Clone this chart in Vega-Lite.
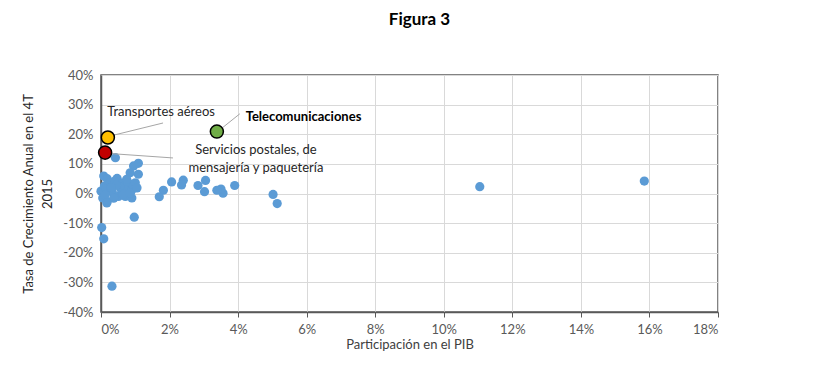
{
  "$schema": "https://vega.github.io/schema/vega-lite/v6.json",
  "width": 617,
  "height": 237,
  "autosize": "none",
  "padding": {"left": 101, "top": 75, "right": 99, "bottom": 60},
  "title": {"text": "Figura 3", "font": "Lato", "fontSize": 17, "fontWeight": "bold", "color": "#000000", "anchor": "middle", "offset": 40, "dx": 10},
  "config": {"view": {"stroke": "#595959", "strokeWidth": 1.5}, "font": "Lato"},
  "datasets": {
    "sectors": [
      {"pib": 15.85, "crec": 4.2}, {"pib": 11.05, "crec": 2.3}, {"pib": 5.02, "crec": -0.3}, {"pib": 5.14, "crec": -3.4},
      {"pib": 3.9, "crec": 2.7}, {"pib": 3.56, "crec": 0.1}, {"pib": 3.5, "crec": 1.5}, {"pib": 3.38, "crec": 1.1},
      {"pib": 3.02, "crec": 0.6}, {"pib": 3.05, "crec": 4.4}, {"pib": 2.83, "crec": 2.7}, {"pib": 2.4, "crec": 4.5},
      {"pib": 2.35, "crec": 2.9}, {"pib": 2.06, "crec": 3.9}, {"pib": 1.82, "crec": 1.1}, {"pib": 1.7, "crec": -1.1},
      {"pib": 0.97, "crec": -8.0}, {"pib": 0.02, "crec": -11.5}, {"pib": 0.08, "crec": -15.3}, {"pib": 0.32, "crec": -31.3},
      {"pib": 0.42, "crec": 12.1}, {"pib": 1.09, "crec": 10.2}, {"pib": 0.95, "crec": 9.3}, {"pib": 1.09, "crec": 6.5},
      {"pib": 0.85, "crec": 7.0}, {"pib": 0.08, "crec": 5.9}, {"pib": 0.18, "crec": 5.0}, {"pib": 0.0, "crec": 0.8},
      {"pib": 0.18, "crec": -2.7}, {"pib": 0.33, "crec": 0.5}, {"pib": 0.47, "crec": 5.1}, {"pib": 0.62, "crec": 3.5},
      {"pib": 0.81, "crec": 3.4}, {"pib": 0.71, "crec": 1.2}, {"pib": 0.9, "crec": 1.2}, {"pib": 0.51, "crec": -1.0},
      {"pib": 0.71, "crec": -1.0}, {"pib": 0.9, "crec": -1.5}, {"pib": 0.37, "crec": -1.6}, {"pib": 0.25, "crec": 3.5},
      {"pib": 0.1, "crec": 2.5}, {"pib": 0.55, "crec": 2.2}, {"pib": 0.05, "crec": -1.5}, {"pib": 0.6, "crec": 0.3},
      {"pib": 0.15, "crec": 1.5}, {"pib": 0.4, "crec": 4.2}, {"pib": 0.75, "crec": 4.8}, {"pib": 0.95, "crec": 2.5},
      {"pib": 0.12, "crec": -0.5}, {"pib": 0.45, "crec": 2.8}, {"pib": 0.65, "crec": -0.3}, {"pib": 0.3, "crec": 2.0},
      {"pib": 0.85, "crec": 0.2}, {"pib": 1.0, "crec": 3.6}, {"pib": 1.05, "crec": 1.9}, {"pib": 0.17, "crec": -3.2}
    ],
    "highlights": [
      {"pib": 0.2, "crec": 18.9, "sector": "Transportes aéreos"},
      {"pib": 0.12, "crec": 13.8, "sector": "Servicios postales"},
      {"pib": 3.38, "crec": 20.9, "sector": "Telecomunicaciones"}
    ],
    "leaders": [
      {"pib": 0.3, "crec": 19.5, "pib2": 1.81, "crec2": 23.8},
      {"pib": 0.25, "crec": 13.5, "pib2": 2.1, "crec2": 12.0},
      {"pib": 3.5, "crec": 21.8, "pib2": 4.05, "crec2": 26.9}
    ],
    "labelsLeft": [
      {"pib": 0.18, "crec": 27.5, "label": "Transportes aéreos"}
    ],
    "labelsBold": [
      {"pib": 4.22, "crec": 25.8, "label": "Telecomunicaciones"}
    ],
    "labelsCenter": [
      {"pib": 4.52, "crec": 14.7, "label": "Servicios  postales, de"},
      {"pib": 4.52, "crec": 8.6, "label": "mensajería y paquetería"}
    ]
  },
  "encoding": {
    "x": {"field": "pib", "type": "quantitative", "scale": {"domain": [0, 18], "nice": false},
      "axis": {"values": [0, 2, 4, 6, 8, 10, 12, 14, 16, 18], "labelExpr": "datum.value + '%'", "labelOverlap": false, "grid": true, "gridColor": "#d9d9d9",
        "domainColor": "#595959", "domainWidth": 1.5, "tickColor": "#595959", "tickSize": 5, "labelFontSize": 13, "labelColor": "#595959",
        "labelPadding": 6, "title": "Participación en el PIB", "titleFontSize": 13, "titleFontWeight": "normal", "titleColor": "#404040", "titlePadding": 2}},
    "y": {"field": "crec", "type": "quantitative", "scale": {"domain": [-40, 40], "nice": false},
      "axis": {"values": [-40, -30, -20, -10, 0, 10, 20, 30, 40], "tickCount": 9, "labelExpr": "datum.value + '%'", "labelOverlap": false, "grid": true, "gridColor": "#d9d9d9",
        "domainColor": "#595959", "domainWidth": 1.5, "tickSize": 0, "labelFontSize": 13, "labelColor": "#595959", "labelPadding": 8,
        "title": ["Tasa de Crecimiento Anual en el 4T", "2015"], "titleFontSize": 13, "titleLineHeight": 19, "titleFontWeight": "normal", "titleColor": "#262626", "titlePadding": 8}}
  },
  "layer": [
    {
      "data": {"name": "sectors"},
      "mark": {"type": "circle", "size": 85, "color": "#5b9bd5", "opacity": 1}
    },
    {
      "data": {"name": "leaders"},
      "mark": {"type": "rule", "color": "#a6a6a6", "strokeWidth": 1},
      "encoding": {
        "x2": {"field": "pib2"},
        "y2": {"field": "crec2"}
      }
    },
    {
      "data": {"name": "highlights"},
      "mark": {"type": "circle", "size": 170, "opacity": 1, "stroke": "#000000", "strokeWidth": 1.5},
      "encoding": {
        "color": {"field": "sector", "type": "nominal", "legend": null,
          "scale": {"domain": ["Transportes aéreos", "Servicios postales", "Telecomunicaciones"], "range": ["#ffc000", "#c00000", "#70ad47"]}}
      }
    },
    {
      "data": {"name": "labelsLeft"},
      "mark": {"type": "text", "fontSize": 13, "color": "#262626", "baseline": "middle", "align": "left"},
      "encoding": {"text": {"field": "label"}}
    },
    {
      "data": {"name": "labelsBold"},
      "mark": {"type": "text", "fontSize": 13, "fontWeight": "bold", "color": "#000000", "baseline": "middle", "align": "left"},
      "encoding": {"text": {"field": "label"}}
    },
    {
      "data": {"name": "labelsCenter"},
      "mark": {"type": "text", "fontSize": 13, "color": "#262626", "baseline": "middle", "align": "center"},
      "encoding": {"text": {"field": "label"}}
    }
  ]
}
